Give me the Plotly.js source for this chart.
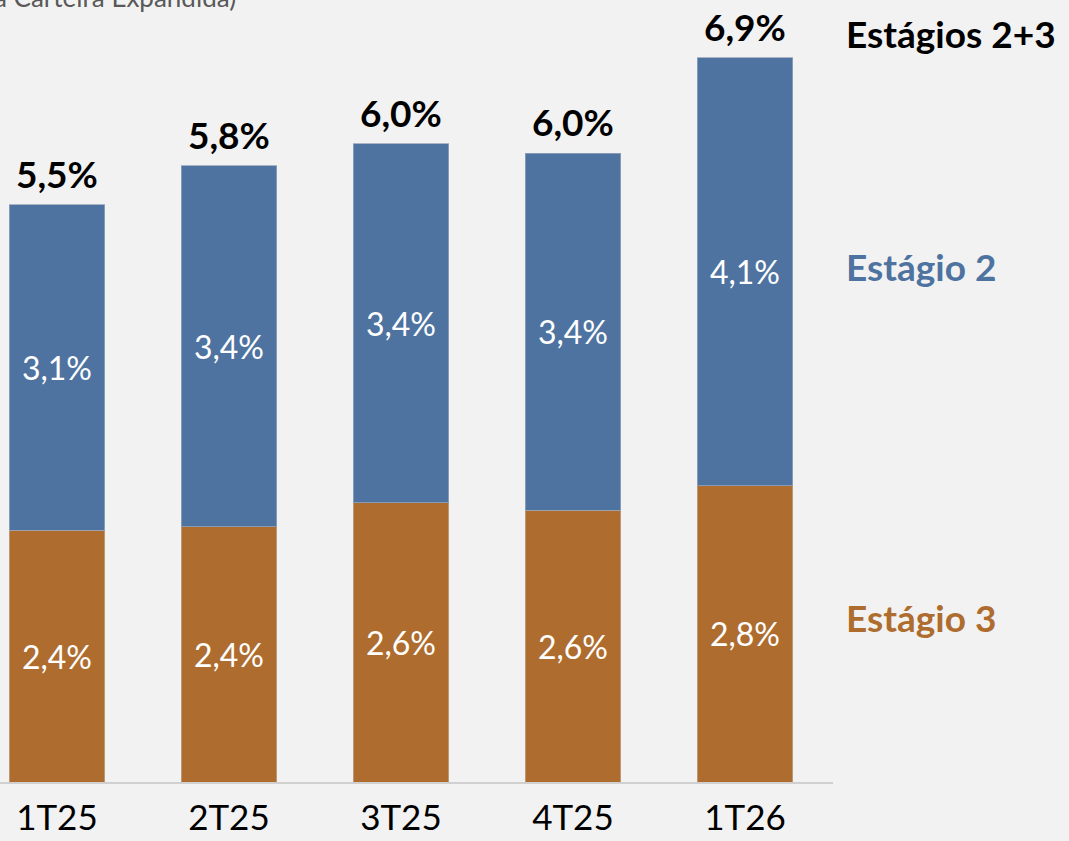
<!DOCTYPE html>
<html>
<head>
<meta charset="utf-8">
<script src="https://cdn.plot.ly/plotly-3.0.1.min.js"></script>
<style>
html,body{margin:0;padding:0;background:#f2f2f2;}
#chart{width:1069px;height:841px;}
</style>
</head>
<body>
<div id="chart"></div>
<script>
const categories = ["1T25", "2T25", "3T25", "4T25", "1T26"];
// bar heights (% of portfolio)
const estagio3 = [2.40, 2.43, 2.66, 2.59, 2.82];
const estagio2 = [3.10, 3.44, 3.42, 3.40, 4.08];
// labels as printed on the chart
const estagio3Labels = ["2,4%", "2,4%", "2,6%", "2,6%", "2,8%"];
const estagio2Labels = ["3,1%", "3,4%", "3,4%", "3,4%", "4,1%"];
const totalLabels = ["5,5%", "5,8%", "6,0%", "6,0%", "6,9%"];
const seriesNames = ["Estágio 3", "Estágio 2", "Estágios 2+3"];
const subtitle = "(% da Carteira Expandida)";

const BLUE = "#4e73a0";
const ORANGE = "#ae6d2f";
const FONT = "Lato, 'Open Sans', sans-serif";

const xIdx = categories.map((_, i) => i);
const totals = estagio3.map((v, i) => v + estagio2[i]);

const traces = [
  {
    type: "bar", name: seriesNames[0], x: xIdx, y: estagio3,
    marker: {color: ORANGE, line: {width: 1, color: "rgba(190,170,150,0.7)"}},
    text: estagio3Labels, textposition: "inside", insidetextanchor: "middle",
    textfont: {color: "#ffffff", size: 32, family: FONT}, constraintext: "none",
    hoverinfo: "skip", width: 0.555
  },
  {
    type: "bar", name: seriesNames[1], x: xIdx, y: estagio2,
    marker: {color: BLUE, line: {width: 1, color: "rgba(150,165,185,0.8)"}},
    text: estagio2Labels, textposition: "inside", insidetextanchor: "middle",
    textfont: {color: "#ffffff", size: 32, family: FONT}, constraintext: "none",
    hoverinfo: "skip", width: 0.555
  }
];

const annotations = totals.map((t, i) => ({
  x: i, y: t, xref: "x", yref: "y", text: "<b>" + totalLabels[i] + "</b>",
  showarrow: false, yanchor: "bottom", yshift: 7,
  font: {size: 37, color: "#000000", family: FONT}
}));

annotations.push(
  {xref: "paper", yref: "paper", x: 844/833, y: 1 - 33/782, xanchor: "left", yanchor: "middle",
   text: "<b>" + seriesNames[2] + "</b>", showarrow: false, font: {size: 37, color: "#000000", family: FONT}},
  {xref: "paper", yref: "paper", x: 844/833, y: 1 - 266/782, xanchor: "left", yanchor: "middle",
   text: "<b>" + seriesNames[1] + "</b>", showarrow: false, font: {size: 37, color: BLUE, family: FONT}},
  {xref: "paper", yref: "paper", x: 844/833, y: 1 - 617/782, xanchor: "left", yanchor: "middle",
   text: "<b>" + seriesNames[0] + "</b>", showarrow: false, font: {size: 37, color: ORANGE, family: FONT}},
  {xref: "paper", yref: "paper", x: 238/833, y: 1 - 15/782, xanchor: "right", yanchor: "bottom",
   text: subtitle, showarrow: false, font: {size: 26, color: "#595959", family: FONT}}
);

const layout = {
  width: 1069, height: 841,
  paper_bgcolor: "#f2f2f2", plot_bgcolor: "#f2f2f2",
  margin: {l: 0, r: 236, t: 0, b: 59, pad: 0},
  barmode: "stack",
  showlegend: false,
  xaxis: {
    range: [-0.331, 4.512], tickmode: "array", tickvals: xIdx, ticktext: categories,
    showgrid: false, zeroline: false, showline: true, linecolor: "#d0d0d0", linewidth: 1.5,
    ticks: "", ticklabelstandoff: 4,
    tickfont: {size: 35, color: "#000000", family: FONT}, fixedrange: true
  },
  yaxis: {
    range: [0, 7.448], visible: false, showgrid: false, zeroline: false, fixedrange: true
  },
  annotations: annotations,
  font: {family: FONT}
};

Plotly.newPlot("chart", traces, layout, {displayModeBar: false, staticPlot: true});
</script>
</body>
</html>
